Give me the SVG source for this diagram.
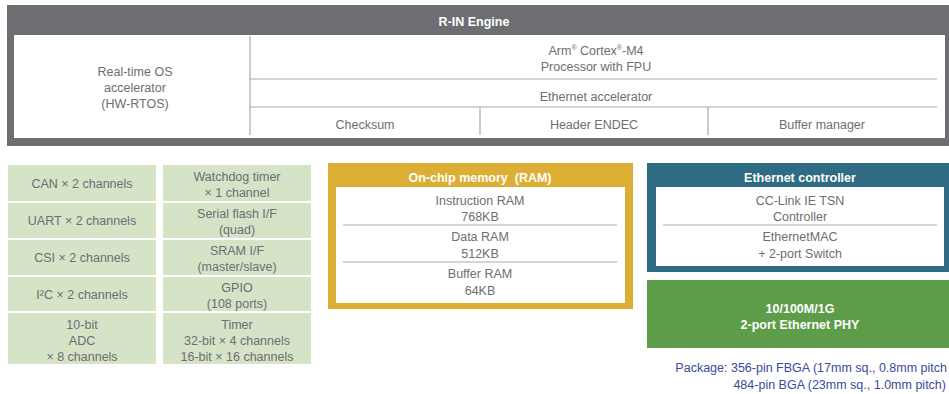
<svg xmlns="http://www.w3.org/2000/svg" width="949" height="394" viewBox="0 0 949 394">
<style>
text{font-family:"Liberation Sans",Arial,sans-serif;font-size:12.5px;fill:#6d6e71;text-anchor:middle}
.t{fill:#fff;font-weight:bold;font-size:12.5px}
.ln{stroke:#a7a9ac;stroke-width:1.2;fill:none}
.cell{fill:#d5e3c7}
.pk{fill:#3c4a9c;text-anchor:end}
</style>
<rect width="949" height="394" fill="#fff"/>
<g id="rin-engine">
<rect x="7" y="5" width="942" height="141" fill="#6d6e71"/>
<rect x="14" y="35" width="931" height="103" fill="#fff"/>
<text class="t" x="474" y="26">R-IN Engine</text>
<g class="ln">
<line x1="250" y1="36" x2="250" y2="135"/>
<line x1="250" y1="79" x2="937" y2="79"/>
<line x1="250" y1="107" x2="937" y2="107"/>
<line x1="480" y1="107" x2="480" y2="135"/>
<line x1="708" y1="107" x2="708" y2="135"/>
</g>
<text x="135" y="75.5">Real-time OS</text>
<text x="135" y="91.5">accelerator</text>
<text x="135" y="107.5">(HW-RTOS)</text>
<text x="596" y="54.5">Arm<tspan font-size="7" dy="-5">®</tspan><tspan dy="5"> Cortex</tspan><tspan font-size="7" dy="-5">®</tspan><tspan dy="5">-M4</tspan></text>
<text x="596" y="71">Processor with FPU</text>
<text x="596" y="100.5">Ethernet accelerator</text>
<text x="365" y="128.5">Checksum</text>
<text x="594" y="128.5">Header ENDEC</text>
<text x="822" y="128.5">Buffer manager</text>
</g>
<g id="peripherals">
<rect class="cell" x="8" y="165" width="148" height="36"/>
<rect class="cell" x="8" y="203" width="148" height="35"/>
<rect class="cell" x="8" y="240" width="148" height="35"/>
<rect class="cell" x="8" y="277" width="148" height="34"/>
<rect class="cell" x="8" y="313" width="148" height="51"/>
<rect class="cell" x="163" y="165" width="148" height="36"/>
<rect class="cell" x="163" y="203" width="148" height="35"/>
<rect class="cell" x="163" y="240" width="148" height="35"/>
<rect class="cell" x="163" y="277" width="148" height="34"/>
<rect class="cell" x="163" y="313" width="148" height="51"/>
<text x="82" y="187.5">CAN × 2 channels</text>
<text x="82" y="225">UART × 2 channels</text>
<text x="82" y="262">CSI × 2 channels</text>
<text x="82" y="298.5">I²C × 2 channels</text>
<text x="82" y="329">10-bit</text>
<text x="82" y="345">ADC</text>
<text x="82" y="361">× 8 channels</text>
<text x="237" y="181">Watchdog timer</text>
<text x="237" y="197">× 1 channel</text>
<text x="237" y="218">Serial flash I/F</text>
<text x="237" y="234">(quad)</text>
<text x="237" y="255">SRAM I/F</text>
<text x="237" y="271">(master/slave)</text>
<text x="237" y="292">GPIO</text>
<text x="237" y="308">(108 ports)</text>
<text x="237" y="329">Timer</text>
<text x="237" y="345">32-bit × 4 channels</text>
<text x="237" y="361">16-bit × 16 channels</text>
</g>
<g id="memory">
<rect x="328" y="163" width="305" height="146" fill="#dcae34"/>
<rect x="336" y="187" width="289" height="116" fill="#fff"/>
<text class="t" x="480" y="182" xml:space="preserve">On-chip memory  (RAM)</text>
<line class="ln" x1="343" y1="225" x2="617" y2="225"/>
<line class="ln" x1="343" y1="262" x2="617" y2="262"/>
<text x="480" y="204.5">Instruction RAM</text>
<text x="480" y="220.5">768KB</text>
<text x="480" y="241">Data RAM</text>
<text x="480" y="257.5">512KB</text>
<text x="480" y="278">Buffer RAM</text>
<text x="480" y="294.5">64KB</text>
</g>
<g id="ethernet-controller">
<rect x="647" y="163" width="302" height="109" fill="#2f6b82"/>
<rect x="656" y="187" width="288" height="79" fill="#fff"/>
<text class="t" x="800" y="182">Ethernet controller</text>
<line class="ln" x1="663" y1="225" x2="937" y2="225"/>
<text x="800" y="204.5">CC-Link IE TSN</text>
<text x="800" y="220.5">Controller</text>
<text x="800" y="241">EthernetMAC</text>
<text x="800" y="257.5">+ 2-port Switch</text>
</g>
<g id="ethernet-phy">
<rect x="647" y="280" width="302" height="68" fill="#5d9c48"/>
<text class="t" x="800" y="312.5">10/100M/1G</text>
<text class="t" x="800" y="328.5">2-port Ethernet PHY</text>
</g>
<g id="package">
<text class="pk" x="947" y="371.5">Package: 356-pin FBGA (17mm sq., 0.8mm pitch</text>
<text class="pk" x="946" y="388.5">484-pin BGA (23mm sq., 1.0mm pitch)</text>
</g>
<g id="connectors"/>
</svg>
